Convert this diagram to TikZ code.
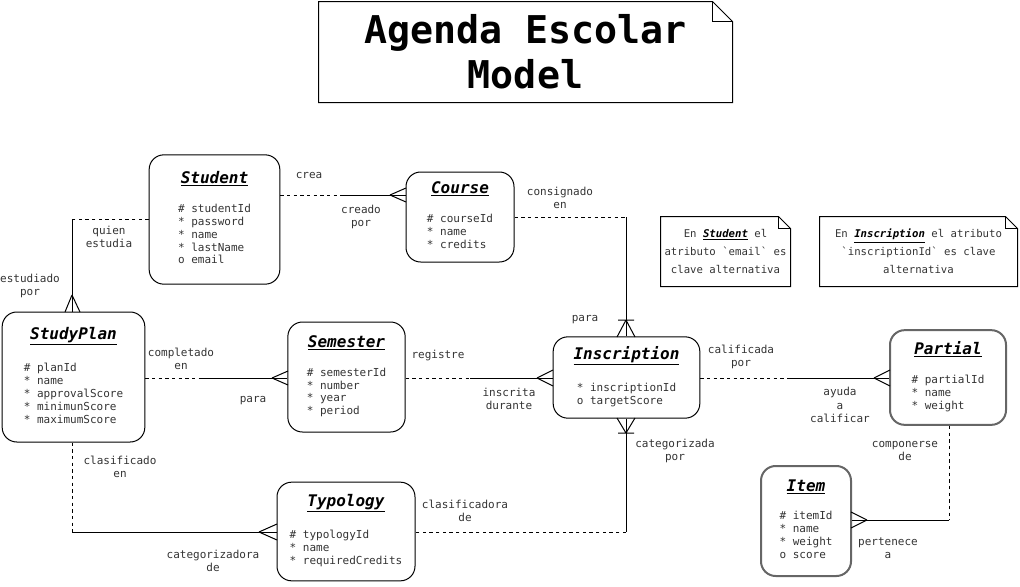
\documentclass[tikz,border=0pt]{standalone}
\usepackage{fontspec}
\setmainfont{DejaVu Sans Mono}
\usetikzlibrary{calc}

\newcommand\etitle[1]{{\fontsize{12}{14}\selectfont\color{black}\underline{\textbf{\textit{#1}}}}}
\newcommand\attrs[1]{\begin{tabular}[t]{@{}l@{}}#1\end{tabular}}

\begin{document}
\begin{tikzpicture}[
    x=0.75pt, y=-0.75pt,
    line width=0.75pt,
    ent/.style={draw, rounded corners=11pt, align=center, inner sep=0pt, text=black!80, font=\fontsize{8.25}{9.7}\selectfont},
    entg/.style={ent, draw=black!60, line width=1.5pt},
    lbl/.style={align=center, text=black!80, font=\fontsize{8.25}{10}\selectfont},
    notebox/.style={align=center, inner sep=0pt, text=black!80, font=\fontsize{8}{13.5}\selectfont},
    opt/.style={dash pattern=on 2.5pt off 2.5pt},
  ]
    \useasboundingbox (0,0) rectangle (1020,586);

    % title
    \node[align=center, inner sep=0pt, minimum width=309.75pt, minimum height=75pt,
      font=\fontsize{28.7}{33.75}\selectfont\bfseries] (title) at (525.5,52) {Agenda Escolar\\Model};
    \draw (title.south west) -- (title.north west) -- ([xshift=-15pt]title.north east)
      -- ([yshift=-15pt]title.north east) -- (title.south east) -- cycle;
    \draw ([xshift=-15pt]title.north east) |- ([yshift=-15pt]title.north east);

    % notes
    \node[notebox, minimum width=96.75pt, minimum height=51.75pt] (nstudent) at (725.5,251.5)
      {En {\color{black}\underline{\textbf{\textit{Student}}}} el\\atributo \textasciigrave email\textasciigrave{} es\\clave alternativa};
    \node[notebox, minimum width=147.75pt, minimum height=51.75pt] (ninscription) at (918.5,251.5)
      {En {\color{black}\underline{\textbf{\textit{Inscription}}}} el atributo\\\textasciigrave inscriptionId\textasciigrave{} es clave\\alternativa};
    \foreach \n in {nstudent,ninscription} {
      \draw (\n.south west) -- (\n.north west) -- ([xshift=-9pt]\n.north east)
        -- ([yshift=-9pt]\n.north east) -- (\n.south east) -- cycle;
      \draw ([xshift=-9pt]\n.north east) |- ([yshift=-9pt]\n.north east);
    }

    % entities
    \node[ent, minimum width=98pt, minimum height=97pt] (student) at (214.5,219.5)
      {\etitle{Student}\\[12pt]\attrs{\# studentId\\{}* password\\{}* name\\{}* lastName\\o email}};
    \node[ent, minimum width=81pt, minimum height=67.5pt] (course) at (460,217)
      {\etitle{Course}\\[12pt]\attrs{\# courseId\\{}* name\\{}* credits}};
    \node[ent, minimum width=107pt, minimum height=97.5pt] (studyplan) at (73.5,377)
      {\etitle{StudyPlan}\\[12pt]\attrs{\# planId\\{}* name\\{}* approvalScore\\{}* minimunScore\\{}* maximumScore}};
    \node[ent, minimum width=88pt, minimum height=82.5pt] (semester) at (346.5,377)
      {\etitle{Semester}\\[12pt]\attrs{\# semesterId\\{}* number\\{}* year\\{}* period}};
    \node[ent, minimum width=110pt, minimum height=61pt] (inscription) at (626.5,377.5)
      {\etitle{Inscription}\\[12pt]\attrs{* inscriptionId\\o targetScore}};
    \node[entg, minimum width=87pt, minimum height=71pt] (partial) at (948,377.5)
      {\etitle{Partial}\\[12pt]\attrs{\# partialId\\{}* name\\{}* weight}};
    \node[ent, minimum width=103.5pt, minimum height=74pt] (typology) at (346,531.5)
      {\etitle{Typology}\\[12pt]\attrs{\# typologyId\\{}* name\\{}* requiredCredits}};
    \node[entg, minimum width=67.5pt, minimum height=82.5pt] (item) at (806,521)
      {\etitle{Item}\\[12pt]\attrs{\# itemId\\{}* name\\{}* weight\\o score}};

    % student - course
    \coordinate (sc) at (341,195);
    \coordinate (scf) at (390,195);
    \draw[opt] (student.east |- sc) -- (sc);
    \draw (sc) -- (course.west |- sc);
    \draw (scf) -- ++(16,-7) (scf) -- ++(16,7);
    \node[lbl] (lcrea) at (309,175) {crea};
    \node[lbl] (lcreado) at (361,217) {creado\\por};

    % student - studyplan
    \coordinate (ss) at (72,219);
    \coordinate (ssf) at (72,295);
    \draw[opt] (student.west |- ss) -- (ss);
    \draw (ss) -- (studyplan.north -| ss);
    \draw (ssf) -- ++(-7,17) (ssf) -- ++(8,17);
    \node[lbl] (lquien) at (109,237) {quien\\estudia};
    \node[lbl] (lestudiado) at (30,286) {estudiado\\por};

    % studyplan - semester
    \coordinate (pm) at (200,378);
    \coordinate (pmf) at (272,378);
    \draw[opt] (studyplan.east |- pm) -- (pm);
    \draw (pm) -- (semester.west |- pm);
    \draw (pmf) -- ++(16,-7) (pmf) -- ++(16,7);
    \node[lbl] (lcompletado) at (181,359) {completado\\en};
    \node[lbl] (lpara) at (253,401) {para};

    % semester - inscription
    \coordinate (mi) at (470,378);
    \coordinate (mif) at (537,378);
    \draw[opt] (semester.east |- mi) -- (mi);
    \draw (mi) -- (inscription.west |- mi);
    \draw (mif) -- ++(16,-8) (mif) -- ++(16,8);
    \node[lbl] (lregistre) at (438,355) {registre};
    \node[lbl] (linscrita) at (509,399) {inscrita\\durante};

    % course - inscription
    \coordinate (ci) at (626,217);
    \coordinate (cif) at (626,320);
    \draw[opt] (course.east |- ci) -- (ci);
    \draw (ci) -- (inscription.north -| ci);
    \draw (cif) -- ++(-9,17) (cif) -- ++(9,17) ([xshift=-6pt]cif) -- ([xshift=6pt]cif);
    \node[lbl] (lconsignado) at (560,198) {consignado\\en};
    \node[lbl] (lpara2) at (585,320) {para};

    % inscription - typology
    \coordinate (it) at (626,532);
    \coordinate (itf) at (626,433);
    \draw (inscription.south -| it) -- (it);
    \draw[opt] (it) -- (typology.east |- it);
    \draw (itf) -- ++(-9,-15) (itf) -- ++(9,-15) ([xshift=-6pt]itf) -- ([xshift=6pt]itf);
    \node[lbl] (lcategorizada) at (675,451) {categorizada\\por};
    \node[lbl] (lclasificadora) at (465,511) {clasificadora\\de};

    % studyplan - typology
    \coordinate (pt) at (72,532);
    \coordinate (ptf) at (259,532);
    \draw[opt] (studyplan.south -| pt) -- (pt);
    \draw (pt) -- (typology.west |- pt);
    \draw (ptf) -- ++(18,-8) (ptf) -- ++(18,8);
    \node[lbl] (lclasificado) at (120,467) {clasificado\\en};
    \node[lbl] (lcategorizadora) at (213,561) {categorizadora\\de};

    % inscription - partial
    \coordinate (ip) at (790,378);
    \coordinate (ipf) at (874,378);
    \draw[opt] (inscription.east |- ip) -- (ip);
    \draw (ip) -- (partial.west |- ip);
    \draw (ipf) -- ++(16,-8) (ipf) -- ++(16,8);
    \node[lbl] (lcalificada) at (741,357) {calificada\\por};
    \node[lbl] (layuda) at (840,405) {ayuda\\a\\calificar};

    % partial - item
    \coordinate (pi) at (949,520);
    \coordinate (pif) at (867,520);
    \draw[opt] (partial.south -| pi) -- (pi);
    \draw (pi) -- (item.east |- pi);
    \draw (pif) -- ++(-16,-8) (pif) -- ++(-16,8);
    \node[lbl] (lcomponerse) at (905,451) {componerse\\de};
    \node[lbl] (lpertenece) at (888,548) {pertenece\\a};
  \end{tikzpicture}
\end{document}
